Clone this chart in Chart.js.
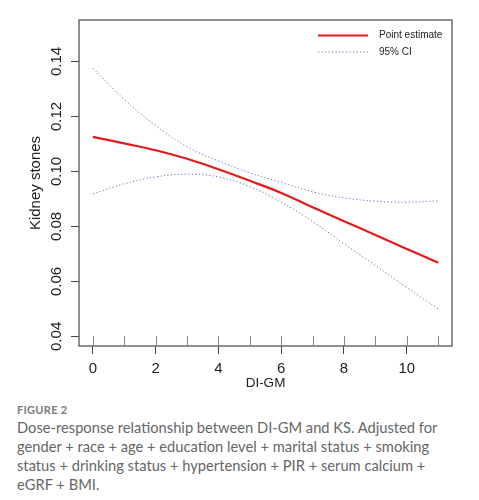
<!DOCTYPE html>
<html lang="en">
<head>
    <meta charset="UTF-8" />
    <title>Dose-response DI-GM and KS</title>
    <script src="https://cdn.jsdelivr.net/npm/chart.js"></script>
    <style>
        body { margin: 0; background: #fff; }
        #wrap { position: relative; width: 479px; height: 500px; }
        #figLabel { position: absolute; left: 17px; top: 403px; font: bold 11px Lato, "Open Sans", sans-serif; color: #7a7a7a; letter-spacing: 0.3px; }
        #caption { position: absolute; left: 17px; top: 418px; width: 462px; font: 14.7px Lato, "Open Sans", sans-serif; line-height: 19px; color: #666; white-space: nowrap; }
    </style>
</head>
<body>
<div id="wrap">
    <canvas id="doseChart" width="479" height="395"></canvas>
    <div id="figLabel">FIGURE 2</div>
    <div id="caption">Dose-response relationship between DI-GM and KS. Adjusted for<br>gender + race + age + education level + marital status + smoking<br>status + drinking status + hypertension + PIR + serum calcium +<br>eGRF + BMI.</div>
</div>

<script>
    // DI-GM score values (also the rug positions)
    const diGm = [0, 1, 2, 3, 4, 5, 6, 7, 8, 9, 10, 11];
    // values
    const pointEstimate = [0.1126, 0.1102, 0.1077, 0.1046, 0.1008, 0.0966, 0.0922, 0.0870, 0.0819, 0.0769, 0.0718, 0.0668];
    const ciUpper = [0.1376, 0.1262, 0.1167, 0.1090, 0.1038, 0.0995, 0.0960, 0.0926, 0.0904, 0.0892, 0.0888, 0.0893];
    const ciLower = [0.0918, 0.0955, 0.0980, 0.0990, 0.0980, 0.0945, 0.0888, 0.0818, 0.0737, 0.0658, 0.0578, 0.0500];
    const xTicks = [0, 2, 4, 6, 8, 10];
    const yTicks = [0.04, 0.06, 0.08, 0.10, 0.12, 0.14];

    const axisFont = { family: '"Liberation Sans", Arial, sans-serif', size: 15 };

    function pts(ys) {
        return diGm.map((x, i) => ({ x: x, y: ys[i] }));
    }

    // R style box around the plot + rug marks on the bottom axis
    const boxPlugin = {
        id: 'rBox',
        afterDatasetsDraw(chart) {
            const ctx = chart.ctx, a = chart.chartArea, xs = chart.scales.x;
            ctx.save();
            ctx.strokeStyle = '#555';
            ctx.lineWidth = 1.3;
            ctx.strokeRect(a.left, a.top, a.right - a.left, a.bottom - a.top);
            ctx.strokeStyle = '#888';
            ctx.lineWidth = 1;
            diGm.forEach(v => {
                const px = Math.round(xs.getPixelForValue(v)) + 0.5;
                ctx.beginPath();
                ctx.moveTo(px, a.bottom);
                ctx.lineTo(px, a.bottom - 10);
                ctx.stroke();
            });
            ctx.restore();
        }
    };

    // legend in the top-right corner, like R's legend()
    const legendPlugin = {
        id: 'rLegend',
        afterDraw(chart) {
            const ctx = chart.ctx, a = chart.chartArea;
            const items = [chart.data.datasets[0], chart.data.datasets[1]];
            ctx.save();
            items.forEach((ds, i) => {
                const y = a.top + 15.5 + i * 16.5;
                ctx.strokeStyle = ds.borderColor;
                ctx.lineWidth = ds.borderWidth;
                ctx.setLineDash(ds.borderDash || []);
                ctx.beginPath();
                ctx.moveTo(a.right - 134, y);
                ctx.lineTo(a.right - 84, y);
                ctx.stroke();
                ctx.setLineDash([]);
                ctx.fillStyle = '#222';
                ctx.font = '10px "Liberation Sans", Arial, sans-serif';
                ctx.textBaseline = 'middle';
                ctx.fillText(i === 0 ? 'Point estimate' : '95% CI', a.right - 73, y);
            });
            ctx.restore();
        }
    };

    const ctx = document.getElementById('doseChart').getContext('2d');
    const doseChart = new Chart(ctx, {
        type: 'line',
        data: {
            datasets: [{
                label: 'Point estimate',
                data: pts(pointEstimate),
                borderColor: '#e31a1c',
                borderWidth: 2.2,
                pointRadius: 0,
                tension: 0.4
            }, {
                label: '95% CI',
                data: pts(ciUpper),
                borderColor: '#6a6ad8',
                borderWidth: 1,
                borderDash: [1.2, 2.3],
                pointRadius: 0,
                tension: 0.4
            }, {
                label: '95% CI lower',
                data: pts(ciLower),
                borderColor: '#6a6ad8',
                borderWidth: 1,
                borderDash: [1.2, 2.3],
                pointRadius: 0,
                tension: 0.4
            }]
        },
        options: {
            responsive: false,
            animation: false,
            layout: { padding: { left: 0, top: 20, right: 27, bottom: 0 } },
            plugins: { legend: { display: false }, tooltip: { enabled: false } },
            scales: {
                x: {
                    type: 'linear',
                    min: -0.44,
                    max: 11.44,
                    afterBuildTicks: s => { s.ticks = xTicks.map(v => ({ value: v })); },
                    afterFit: s => { s.height = 49; },
                    grid: { drawOnChartArea: false, drawTicks: true, tickLength: 8, tickColor: '#444', tickWidth: 1 },
                    border: { display: false },
                    ticks: { font: axisFont, color: '#222', padding: 6, maxRotation: 0 },
                    title: { display: true, text: 'DI-GM', font: { family: axisFont.family, size: 13.5 }, color: '#222', padding: { top: 0, bottom: 4 } }
                },
                y: {
                    min: 0.0365,
                    max: 0.1551,
                    afterBuildTicks: s => { s.ticks = yTicks.map(v => ({ value: v })); },
                    afterFit: s => { s.width = 79; },
                    grid: { drawOnChartArea: false, drawTicks: true, tickLength: 8, tickColor: '#444', tickWidth: 1 },
                    border: { display: false },
                    ticks: {
                        font: axisFont, color: '#222', padding: 0,
                        minRotation: 90, maxRotation: 90, crossAlign: 'center',
                        callback: v => v.toFixed(2)
                    },
                    title: { display: true, text: 'Kidney stones', font: axisFont, color: '#222', padding: { top: 27, bottom: 0 } }
                }
            }
        },
        plugins: [boxPlugin, legendPlugin]
    });
</script>
</body>
</html>
